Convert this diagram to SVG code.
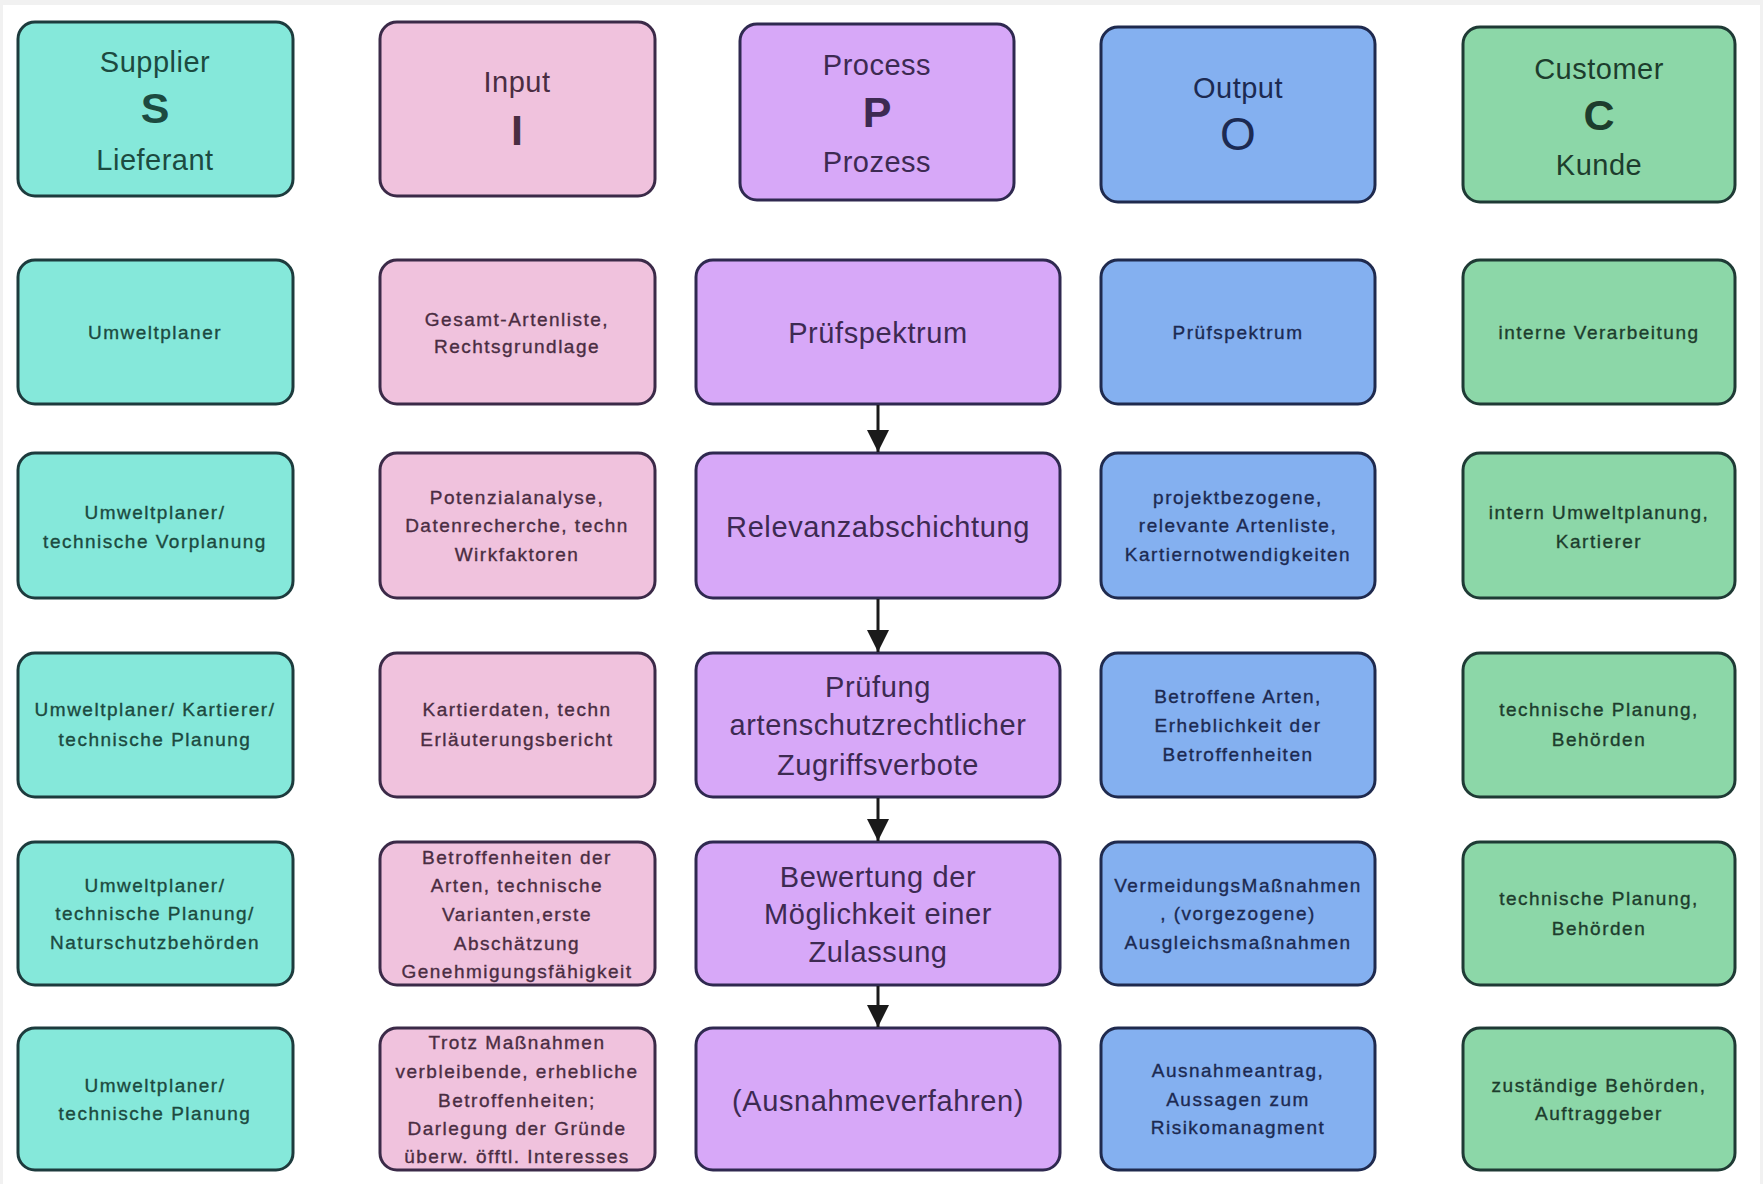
<svg xmlns="http://www.w3.org/2000/svg" width="1763" height="1184" viewBox="0 0 1763 1184">
<defs>
<style>
text{font-family:"Liberation Sans",Arial,sans-serif;text-anchor:middle}
.box{stroke-width:3}
.s .box{fill:#85e8da;stroke:#1d3b3d}
.i .box{fill:#f0c2dd;stroke:#3b2a48}
.p .box{fill:#d7a8f8;stroke:#2f2950}
.o .box{fill:#84b0f0;stroke:#1f2a4e}
.c .box{fill:#8cd7a8;stroke:#1f3a35}
.s text{fill:#1c4a40;stroke:#1c4a40}
.i text{fill:#4a2d42;stroke:#4a2d42}
.p text{fill:#3d2a52;stroke:#3d2a52}
.o text{fill:#1c2a52;stroke:#1c2a52}
.c text{fill:#1d3d2d;stroke:#1d3d2d}
text{stroke-width:0}
.hd{font-size:29px;letter-spacing:0.5px}
.big{font-size:43px;font-weight:bold}
.bigo{font-size:46px}
.sm{font-size:19px;letter-spacing:1.5px;stroke-width:0.35px}
.pt{font-size:29px;letter-spacing:0.6px}
.conn line{stroke:#1a1a1a;stroke-width:3}
</style>
<marker id="ah" viewBox="0 0 22 22" markerWidth="22" markerHeight="22" markerUnits="userSpaceOnUse" refX="22" refY="11" orient="auto">
<path d="M0,0 L22,11 L0,22 z" fill="#1a1a1a"/>
</marker>
</defs>
<rect x="0" y="0" width="1763" height="1184" fill="#f1f1f1"/>
<rect x="3" y="5" width="1757" height="1179" fill="#ffffff"/>

<!-- Header row -->
<g id="hdr-s" class="s">
<rect class="box" x="18" y="22" width="275" height="174" rx="17"/>
<text class="hd" x="155" y="72">Supplier</text>
<text class="big" x="155" y="123">S</text>
<text class="hd" x="155" y="170">Lieferant</text>
</g>
<g id="hdr-i" class="i">
<rect class="box" x="380" y="22" width="275" height="174" rx="17"/>
<text class="hd" x="517" y="92">Input</text>
<text class="big" x="517" y="145">I</text>
</g>
<g id="hdr-p" class="p">
<rect class="box" x="740" y="24" width="274" height="176" rx="17"/>
<text class="hd" x="877" y="75">Process</text>
<text class="big" x="877" y="127">P</text>
<text class="hd" x="877" y="172">Prozess</text>
</g>
<g id="hdr-o" class="o">
<rect class="box" x="1101" y="27" width="274" height="175" rx="17"/>
<text class="hd" x="1238" y="98">Output</text>
<text class="bigo" x="1238" y="150">O</text>
</g>
<g id="hdr-c" class="c">
<rect class="box" x="1463" y="27" width="272" height="175" rx="17"/>
<text class="hd" x="1599" y="79">Customer</text>
<text class="big" x="1599" y="130">C</text>
<text class="hd" x="1599" y="175">Kunde</text>
</g>

<!-- Row 1 -->
<g id="s1" class="s">
<rect class="box" x="18" y="260" width="275" height="144" rx="17"/>
<text class="sm" x="155" y="339">Umweltplaner</text>
</g>
<g id="i1" class="i">
<rect class="box" x="380" y="260" width="275" height="144" rx="17"/>
<text class="sm" x="517" y="326">Gesamt-Artenliste,</text>
<text class="sm" x="517" y="353">Rechtsgrundlage</text>
</g>
<g id="p1" class="p">
<rect class="box" x="696" y="260" width="364" height="144" rx="17"/>
<text class="pt" x="878" y="343">Prüfspektrum</text>
</g>
<g id="o1" class="o">
<rect class="box" x="1101" y="260" width="274" height="144" rx="17"/>
<text class="sm" x="1238" y="339">Prüfspektrum</text>
</g>
<g id="c1" class="c">
<rect class="box" x="1463" y="260" width="272" height="144" rx="17"/>
<text class="sm" x="1599" y="339">interne Verarbeitung</text>
</g>

<!-- Row 2 -->
<g id="s2" class="s">
<rect class="box" x="18" y="453" width="275" height="145" rx="17"/>
<text class="sm" x="155" y="519">Umweltplaner/</text>
<text class="sm" x="155" y="548">technische Vorplanung</text>
</g>
<g id="i2" class="i">
<rect class="box" x="380" y="453" width="275" height="145" rx="17"/>
<text class="sm" x="517" y="504">Potenzialanalyse,</text>
<text class="sm" x="517" y="532">Datenrecherche, techn</text>
<text class="sm" x="517" y="561">Wirkfaktoren</text>
</g>
<g id="p2" class="p">
<rect class="box" x="696" y="453" width="364" height="145" rx="17"/>
<text class="pt" x="878" y="537">Relevanzabschichtung</text>
</g>
<g id="o2" class="o">
<rect class="box" x="1101" y="453" width="274" height="145" rx="17"/>
<text class="sm" x="1238" y="504">projektbezogene,</text>
<text class="sm" x="1238" y="532">relevante Artenliste,</text>
<text class="sm" x="1238" y="561">Kartiernotwendigkeiten</text>
</g>
<g id="c2" class="c">
<rect class="box" x="1463" y="453" width="272" height="145" rx="17"/>
<text class="sm" x="1599" y="519">intern Umweltplanung,</text>
<text class="sm" x="1599" y="548">Kartierer</text>
</g>

<!-- Row 3 -->
<g id="s3" class="s">
<rect class="box" x="18" y="653" width="275" height="144" rx="17"/>
<text class="sm" x="155" y="716">Umweltplaner/ Kartierer/</text>
<text class="sm" x="155" y="746">technische Planung</text>
</g>
<g id="i3" class="i">
<rect class="box" x="380" y="653" width="275" height="144" rx="17"/>
<text class="sm" x="517" y="716">Kartierdaten,  techn</text>
<text class="sm" x="517" y="746">Erläuterungsbericht</text>
</g>
<g id="p3" class="p">
<rect class="box" x="696" y="653" width="364" height="144" rx="17"/>
<text class="pt" x="878" y="697">Prüfung</text>
<text class="pt" x="878" y="735">artenschutzrechtlicher</text>
<text class="pt" x="878" y="775">Zugriffsverbote</text>
</g>
<g id="o3" class="o">
<rect class="box" x="1101" y="653" width="274" height="144" rx="17"/>
<text class="sm" x="1238" y="703">Betroffene Arten,</text>
<text class="sm" x="1238" y="732">Erheblichkeit der</text>
<text class="sm" x="1238" y="761">Betroffenheiten</text>
</g>
<g id="c3" class="c">
<rect class="box" x="1463" y="653" width="272" height="144" rx="17"/>
<text class="sm" x="1599" y="716">technische Planung,</text>
<text class="sm" x="1599" y="746">Behörden</text>
</g>

<!-- Row 4 -->
<g id="s4" class="s">
<rect class="box" x="18" y="842" width="275" height="143" rx="17"/>
<text class="sm" x="155" y="892">Umweltplaner/</text>
<text class="sm" x="155" y="920">technische Planung/</text>
<text class="sm" x="155" y="949">Naturschutzbehörden</text>
</g>
<g id="i4" class="i">
<rect class="box" x="380" y="842" width="275" height="143" rx="17"/>
<text class="sm" x="517" y="864">Betroffenheiten der</text>
<text class="sm" x="517" y="892">Arten, technische</text>
<text class="sm" x="517" y="921">Varianten,erste</text>
<text class="sm" x="517" y="950">Abschätzung</text>
<text class="sm" x="517" y="978">Genehmigungsfähigkeit</text>
</g>
<g id="p4" class="p">
<rect class="box" x="696" y="842" width="364" height="143" rx="17"/>
<text class="pt" x="878" y="887">Bewertung der</text>
<text class="pt" x="878" y="924">Möglichkeit einer</text>
<text class="pt" x="878" y="962">Zulassung</text>
</g>
<g id="o4" class="o">
<rect class="box" x="1101" y="842" width="274" height="143" rx="17"/>
<text class="sm" x="1238" y="892">VermeidungsMaßnahmen</text>
<text class="sm" x="1238" y="920">, (vorgezogene)</text>
<text class="sm" x="1238" y="949">Ausgleichsmaßnahmen</text>
</g>
<g id="c4" class="c">
<rect class="box" x="1463" y="842" width="272" height="143" rx="17"/>
<text class="sm" x="1599" y="905">technische Planung,</text>
<text class="sm" x="1599" y="935">Behörden</text>
</g>

<!-- Row 5 -->
<g id="s5" class="s">
<rect class="box" x="18" y="1028" width="275" height="142" rx="17"/>
<text class="sm" x="155" y="1092">Umweltplaner/</text>
<text class="sm" x="155" y="1120">technische Planung</text>
</g>
<g id="i5" class="i">
<rect class="box" x="380" y="1028" width="275" height="142" rx="17"/>
<text class="sm" x="517" y="1049">Trotz Maßnahmen</text>
<text class="sm" x="517" y="1078">verbleibende, erhebliche</text>
<text class="sm" x="517" y="1107">Betroffenheiten;</text>
<text class="sm" x="517" y="1135">Darlegung der Gründe</text>
<text class="sm" x="517" y="1163">überw. öfftl. Interesses</text>
</g>
<g id="p5" class="p">
<rect class="box" x="696" y="1028" width="364" height="142" rx="17"/>
<text class="pt" x="878" y="1111">(Ausnahmeverfahren)</text>
</g>
<g id="o5" class="o">
<rect class="box" x="1101" y="1028" width="274" height="142" rx="17"/>
<text class="sm" x="1238" y="1077">Ausnahmeantrag,</text>
<text class="sm" x="1238" y="1106">Aussagen zum</text>
<text class="sm" x="1238" y="1134">Risikomanagment</text>
</g>
<g id="c5" class="c">
<rect class="box" x="1463" y="1028" width="272" height="142" rx="17"/>
<text class="sm" x="1599" y="1092">zuständige Behörden,</text>
<text class="sm" x="1599" y="1120">Auftraggeber</text>
</g>

<!-- Connectors -->
<g id="connectors" class="conn">
<line x1="878" y1="405" x2="878" y2="452" marker-end="url(#ah)"/>
<line x1="878" y1="599" x2="878" y2="652" marker-end="url(#ah)"/>
<line x1="878" y1="798" x2="878" y2="841" marker-end="url(#ah)"/>
<line x1="878" y1="986" x2="878" y2="1027" marker-end="url(#ah)"/>
</g>
</svg>
